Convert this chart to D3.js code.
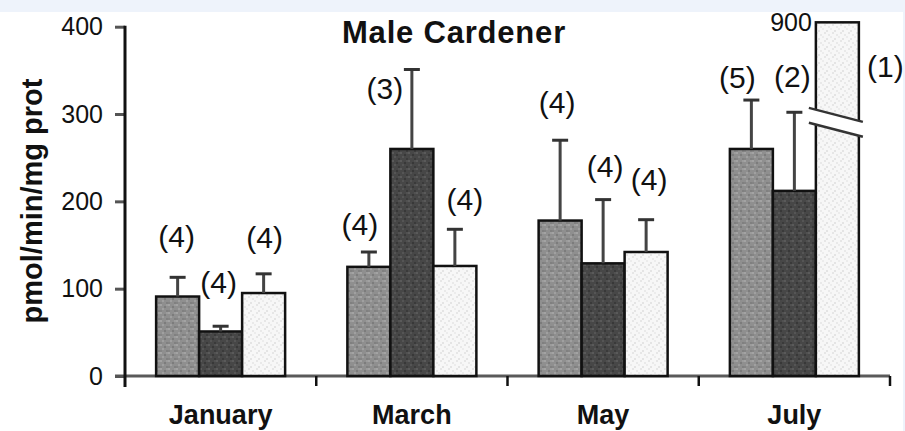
<!DOCTYPE html>
<html>
<head>
<meta charset="utf-8">
<script src="https://cdn.jsdelivr.net/npm/d3@7"></script>
<style>
  html, body { margin: 0; padding: 0; background: #fff; }
  svg { display: block; }
  text { font-family: "Liberation Sans", Arial, Helvetica, sans-serif; }
</style>
</head>
<body>
<svg id="chart" width="905" height="431"></svg>
<script>
// Enzyme activity by month, three groups per month
const months = ["January", "March", "May", "July"];
const seriesKeys = ["s1", "s2", "s3"];
const meanS1 = [91, 125, 178, 260];
const meanS2 = [51, 260, 129, 212];
const meanS3 = [95, 126, 142, 900];
const errS1 = [22, 17, 92, 56];
const errS2 = [6, 91, 73, 90];
const errS3 = [22, 42, 37, null];
const nS1 = ["(4)", "(4)", "(4)", "(5)"];
const nS2 = ["(4)", "(3)", "(4)", "(2)"];
const nS3 = ["(4)", "(4)", "(4)", "(1)"];
const yTicks = [0, 100, 200, 300, 400];
const titleText = "Male Cardener";
const yLabel = "pmol/min/mg prot";

const rows = months.map((m, i) => ({
  month: m,
  bars: [
    { key: "s1", value: meanS1[i], err: errS1[i], n: nS1[i] },
    { key: "s2", value: meanS2[i], err: errS2[i], n: nS2[i] },
    { key: "s3", value: meanS3[i], err: errS3[i], n: nS3[i] }
  ]
}));

// Label nudges (px) for the sample-size annotations
const labelNudge = {
  "January-s1": [-1, -6], "January-s2": [-2, -9], "January-s3": [1, -2],
  "March-s1": [-9, 7], "March-s2": [-27, 54], "March-s3": [10, 5],
  "May-s1": [-3, -3], "May-s2": [2, 1], "May-s3": [3, -6],
  "July-s1": [-14, 12], "July-s2": [-2, -1], "July-s3": [48, 0]
};

const svg = d3.select("#chart");
const W = 905, H = 431;

// page frame tint
svg.append("rect").attr("width", W).attr("height", H).attr("fill", "#fff");
svg.append("rect").attr("x", 0).attr("y", 0).attr("width", W).attr("height", 12).attr("fill", "#eef3fb");
svg.append("rect").attr("x", 903).attr("y", 0).attr("width", 2).attr("height", H).attr("fill", "#eef3fb");

// textures for the three fills
const defs = svg.append("defs");
function texture(id, base, dots) {
  const p = defs.append("pattern").attr("id", id)
    .attr("patternUnits", "userSpaceOnUse").attr("width", 8).attr("height", 8);
  p.append("rect").attr("width", 8).attr("height", 8).attr("fill", base);
  dots.forEach(([x, y, c]) => p.append("rect").attr("x", x).attr("y", y)
    .attr("width", 2).attr("height", 2).attr("fill", c));
}
texture("tex1", "#8f8f8f", [[0,0,"#a3a3a3"],[4,2,"#7c7c7c"],[2,4,"#a0a0a0"],[6,6,"#808080"],[6,0,"#9c9c9c"],[0,6,"#848484"]]);
texture("tex2", "#474747", [[0,0,"#5a5a5a"],[4,2,"#383838"],[2,4,"#555555"],[6,6,"#3a3a3a"],[6,0,"#515151"]]);
texture("tex3", "#f7f7f7", [[0,0,"#e6e6e6"],[4,2,"#e9e9e9"],[2,6,"#e4e4e4"],[6,4,"#ececec"]]);
const fills = { s1: "url(#tex1)", s2: "url(#tex2)", s3: "url(#tex3)" };

// scales
const x0 = d3.scaleBand().domain(months).range([125, 890]).paddingInner(0.3255).paddingOuter(0.16275);
const x1 = d3.scaleBand().domain(seriesKeys).range([0, x0.bandwidth()]);
const y = d3.scaleLinear().domain([0, 400]).range([376, 26.7]);
// broken scale used above 300 for out-of-range bars
const yDisp = d3.scaleLinear().domain([0, 300, 900]).range([y(0), y(300), y(405)]);

// x axis baseline
svg.append("line").attr("x1", 115).attr("x2", 890).attr("y1", y(0)).attr("y2", y(0))
  .attr("stroke", "#5a5a5a").attr("stroke-width", 3);

// bars
const g = svg.append("g");
rows.forEach(r => {
  r.bars.forEach(b => {
    const bx = x0(r.month) + x1(b.key);
    const bw = x1.bandwidth();
    const top = b.value > 400 ? yDisp(b.value) : y(b.value);
    g.append("rect").attr("x", bx).attr("y", top).attr("width", bw).attr("height", y(0) - top)
      .attr("fill", fills[b.key]).attr("stroke", "#111").attr("stroke-width", 2.5);
  });
});

// error bars (upper only)
rows.forEach(r => {
  r.bars.forEach(b => {
    if (b.err == null) return;
    const cx = x0(r.month) + x1(b.key) + x1.bandwidth() / 2;
    g.append("line").attr("x1", cx).attr("x2", cx)
      .attr("y1", y(b.value)).attr("y2", y(b.value + b.err))
      .attr("stroke", "#444").attr("stroke-width", 3);
    g.append("line").attr("x1", cx - 8).attr("x2", cx + 8)
      .attr("y1", y(b.value + b.err)).attr("y2", y(b.value + b.err))
      .attr("stroke", "#333").attr("stroke-width", 3);
  });
});

// axis break on the tall July bar
rows.forEach(r => {
  r.bars.forEach(b => {
    if (b.value <= 400) return;
    const bx = x0(r.month) + x1(b.key);
    const bw = x1.bandwidth();
    const xa = bx - 7, xb = bx + bw + 4;
    const yu = y(307), yl = y(290), drop = 14;
    g.append("polygon")
      .attr("points", [[xa, yu], [xb, yu + drop], [xb, yl + drop], [xa, yl]].map(p => p.join(",")).join(" "))
      .attr("fill", "#fff");
    [yu, yl].forEach(yy => g.append("line").attr("x1", xa).attr("y1", yy).attr("x2", xb).attr("y2", yy + drop)
      .attr("stroke", "#333").attr("stroke-width", 2.5));
    g.append("text").attr("x", bx - 4).attr("y", yDisp(b.value) + 9)
      .attr("text-anchor", "end").attr("font-size", 25).attr("fill", "#111").text(b.value);
  });
});

// sample-size labels
rows.forEach(r => {
  r.bars.forEach(b => {
    const cx = x0(r.month) + x1(b.key) + x1.bandwidth() / 2;
    const base = b.err == null ? yDisp(b.value) + 55 : y(b.value + b.err) - 24;
    const [dx, dy] = labelNudge[r.month + "-" + b.key];
    g.append("text").attr("x", cx + dx).attr("y", base + dy)
      .attr("text-anchor", "middle").attr("font-size", 30).attr("fill", "#111").text(b.n);
  });
});

// y axis
const yAxis = svg.append("g").attr("transform", "translate(125,0)")
  .call(d3.axisLeft(y).tickValues(yTicks).tickSize(10).tickPadding(12).tickFormat(d3.format("d")));
yAxis.select(".domain").remove();
yAxis.selectAll(".tick line").attr("stroke", "#555").attr("stroke-width", 3);
yAxis.selectAll(".tick text").attr("font-size", 25).attr("fill", "#111")
  .attr("font-family", "Liberation Sans, Arial, sans-serif");
svg.append("line").attr("x1", 125).attr("x2", 125).attr("y1", y(400) - 1).attr("y2", y(0) + 11)
  .attr("stroke", "#111").attr("stroke-width", 3);

// group boundary ticks
const step = x0.step();
d3.range(1, months.length + 1).forEach(i => {
  const tx = 125 + i * step;
  svg.append("line").attr("x1", tx).attr("x2", tx).attr("y1", y(0)).attr("y2", y(0) + 10)
    .attr("stroke", "#111").attr("stroke-width", 2.5);
});

// month labels
const xAxis = svg.append("g").attr("transform", `translate(0,${y(0)})`)
  .call(d3.axisBottom(x0).tickSize(0).tickPadding(29));
xAxis.select(".domain").remove();
xAxis.selectAll(".tick text").attr("font-size", 27).attr("font-weight", "bold").attr("fill", "#111")
  .attr("font-family", "Liberation Sans, Arial, sans-serif");

// title
svg.append("text").attr("x", 454).attr("y", 43).attr("text-anchor", "middle")
  .attr("font-size", 31).attr("font-weight", "bold").attr("letter-spacing", 0.8)
  .attr("fill", "#111").text(titleText);

// y label
svg.append("text").attr("transform", "translate(42,201) rotate(-90)").attr("text-anchor", "middle")
  .attr("font-size", 29).attr("font-weight", "bold").attr("fill", "#111").text(yLabel);
</script>
</body>
</html>
